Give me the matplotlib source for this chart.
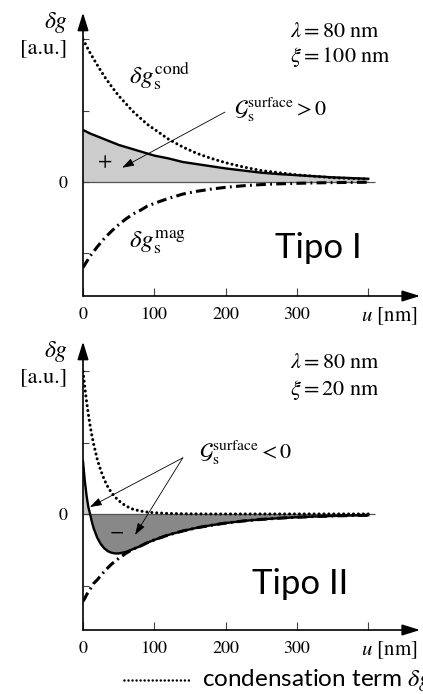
import matplotlib
matplotlib.use("Agg")
import matplotlib.pyplot as plt
from matplotlib.lines import Line2D

plt.rcParams['mathtext.fontset'] = 'stix'
plt.rcParams['font.family'] = 'STIXGeneral'

# ---- data (u in nm, dg in arbitrary units) ----
u_top = [0, 10, 20, 30, 40, 50, 60, 70, 80, 90, 100, 120, 140, 160, 180, 200,
         225, 250, 275, 300, 325, 350, 375, 400]
cond_top = [2.00, 1.81, 1.64, 1.48, 1.34, 1.21, 1.10, 0.99, 0.90, 0.81, 0.74,
            0.60, 0.49, 0.40, 0.33, 0.27, 0.21, 0.16, 0.13, 0.10, 0.08, 0.06,
            0.05, 0.04]
mag_top = [-1.20, -1.04, -0.91, -0.79, -0.69, -0.60, -0.52, -0.45, -0.40,
           -0.34, -0.30, -0.23, -0.17, -0.13, -0.10, -0.075, -0.053, -0.037,
           -0.026, -0.019, -0.013, -0.009, -0.006, -0.004]
total_top = [0.73, 0.68, 0.64, 0.60, 0.56, 0.52, 0.49, 0.46, 0.43, 0.40, 0.37,
             0.33, 0.28, 0.25, 0.22, 0.19, 0.16, 0.13, 0.11, 0.095, 0.08,
             0.065, 0.055, 0.045]

u_bot = [0, 2.5, 5, 7.5, 10, 12.5, 15, 20, 25, 30, 35, 40, 45, 50, 60, 70, 80,
         90, 100, 120, 140, 160, 180, 200, 225, 250, 275, 300, 325, 350, 375,
         400]
cond_bot = [2.00, 1.78, 1.58, 1.40, 1.24, 1.10, 0.98, 0.77, 0.61, 0.48, 0.38,
            0.30, 0.24, 0.19, 0.115, 0.07, 0.045, 0.03, 0.02, 0.01, 0.006,
            0.004, 0.003, 0.003, 0.003, 0.003, 0.003, 0.003, 0.003, 0.003,
            0.003, 0.003]
mag_bot = [-1.22, -1.18, -1.13, -1.09, -1.05, -1.01, -0.97, -0.92, -0.86,
           -0.80, -0.75, -0.70, -0.66, -0.62, -0.55, -0.49, -0.45, -0.40,
           -0.36, -0.29, -0.235, -0.19, -0.155, -0.125, -0.095, -0.073,
           -0.056, -0.043, -0.033, -0.025, -0.019, -0.015]
total_bot = [0.74, 0.47, 0.26, 0.10, 0.00, -0.11, -0.20, -0.33, -0.42, -0.48,
             -0.52, -0.54, -0.55, -0.55, -0.53, -0.49, -0.45, -0.40, -0.36,
             -0.29, -0.235, -0.19, -0.155, -0.125, -0.095, -0.073, -0.056,
             -0.043, -0.033, -0.025, -0.019, -0.015]

xticks = [0, 100, 200, 300, 400]
xticklabels = ['0', '100', '200', '300', '']
yticks = [-1, 0, 1, 2]
yticklabels = ['', '0', '', '']

W, H = 423, 694
fig = plt.figure(figsize=(W / 100, H / 100), dpi=100)


def px_axes(left, top, right, bottom):
    return fig.add_axes([left / W, 1 - bottom / H, (right - left) / W, (bottom - top) / H])


def setup(ax, ylim):
    ax.set_xlim(0, 472.6)
    ax.set_ylim(*ylim)
    for s in ax.spines.values():
        s.set_visible(False)
    ax.set_xticks(xticks)
    ax.set_xticklabels(xticklabels)
    ax.set_yticks(yticks)
    ax.set_yticklabels(yticklabels)
    ax.tick_params(axis='x', direction='in', length=6, width=0.8, pad=8,
                   labelsize=13, color='#444444')
    ax.tick_params(axis='y', direction='in', length=4, width=0.8, pad=11,
                   labelsize=13, color='#444444')
    arr = dict(arrowstyle='-|>,head_length=0.9,head_width=0.28', color='black',
               lw=1.2, shrinkA=0, shrinkB=0, mutation_scale=12)
    ax.annotate('', xy=(1, 0), xytext=(0, 0), xycoords='axes fraction', arrowprops=arr)
    ax.annotate('', xy=(0, 1), xytext=(0, 0), xycoords='axes fraction', arrowprops=arr)
    ax.hlines(0, 0, 410, color='#555555', lw=0.9, zorder=1)
    ax.annotate(r'$u$ [nm]', xy=(429, 0), xycoords=('data', 'axes fraction'),
                xytext=(0, -20), textcoords='offset pixels', ha='center',
                va='center', fontsize=15, annotation_clip=False)
    ax.text(-21, ylim[1] - 0.14, r'$\delta g$', ha='right', va='center',
            fontsize=17, clip_on=False)
    ax.text(-22, ylim[1] - 0.50, '[a.u.]', ha='right', va='center',
            fontsize=16, clip_on=False)


dots = (0, (0.01, 1.6))
dashdot = (0, (3.2, 1.4, 0.6, 1.4))

# ---------------- top panel: type I ----------------
ax1 = px_axes(83, 12.7, 420, 296)
setup(ax1, (-1.60, 2.375))
ax1.fill_between(u_top, total_top, 0, color='#cccccc', lw=0, zorder=0)
ax1.plot(u_top, cond_top, color='black', lw=2.2, ls=dots, dash_capstyle='round')
ax1.plot(u_top, mag_top, color='black', lw=2.2, ls=dashdot)
ax1.plot(u_top, total_top, color='black', lw=1.7)

ax1.text(290, 2.10, r'$\lambda = 80\ \mathrm{nm}$', fontsize=16, va='center')
ax1.text(290, 1.75, r'$\xi = 100\ \mathrm{nm}$', fontsize=16, va='center')
ax1.text(107, 1.49, r'$\delta g_{\mathrm{s}}^{\mathrm{cond}}$', fontsize=18,
         ha='center', va='center')
ax1.text(105, -0.84, r'$\delta g_{\mathrm{s}}^{\mathrm{mag}}$', fontsize=18,
         ha='center', va='center')
ax1.text(212, 1.01, r'$\mathcal{G}_{\mathrm{s}}^{\mathrm{surface}} > 0$',
         fontsize=16, va='center')
ax1.annotate('', xy=(55, 0.20), xytext=(199, 0.98),
             arrowprops=dict(arrowstyle='-|>,head_length=0.6,head_width=0.2',
                             color='black', lw=0.6, shrinkA=0, shrinkB=0,
                             mutation_scale=12))
ax1.text(31, 0.27, '+', fontsize=15, ha='center', va='center')
ax1.text(330, -0.93, 'Tipo I', family='Lato', fontsize=25, ha='center', va='center')

# ---------------- bottom panel: type II ----------------
ax2 = px_axes(83, 341.7, 420, 630)
setup(ax2, (-1.623, 2.417))
ax2.fill_between(u_bot, total_bot, 0, where=[v >= 0 for v in total_bot],
                 interpolate=True, color='#c8c8c8', lw=0, zorder=0)
ax2.fill_between(u_bot, total_bot, 0, where=[v <= 0 for v in total_bot],
                 interpolate=True, color='#888888', lw=0, zorder=0)
ax2.plot(u_bot, cond_bot, color='black', lw=2.2, ls=dots, dash_capstyle='round')
ax2.plot(u_bot, mag_bot, color='black', lw=2.2, ls=dashdot)
ax2.plot(u_bot, total_bot, color='black', lw=1.7)

ax2.text(290, 2.11, r'$\lambda = 80\ \mathrm{nm}$', fontsize=16, va='center')
ax2.text(290, 1.74, r'$\xi = 20\ \mathrm{nm}$', fontsize=16, va='center')
ax2.text(162, 0.86, r'$\mathcal{G}_{\mathrm{s}}^{\mathrm{surface}} < 0$',
         fontsize=16, va='center')
thin = dict(arrowstyle='-|>,head_length=0.6,head_width=0.2', color='black',
            lw=0.6, shrinkA=0, shrinkB=0, mutation_scale=12)
ax2.annotate('', xy=(9.8, 0.10), xytext=(140, 0.79), arrowprops=thin)
ax2.annotate('', xy=(73, -0.29), xytext=(140, 0.79), arrowprops=thin)
ax2.text(48, -0.26, '\u2212', fontsize=15, ha='center', va='center')
ax2.text(305, -0.98, 'Tipo II', family='Lato', fontsize=25, ha='center', va='center')

# legend fragment at the bottom edge, cut by the right border as in the source
fig.add_artist(Line2D([124 / W, 190 / W], [1 - 680 / H] * 2, color='black',
                      lw=1.8, ls=dots, dash_capstyle='round'))
fig.text(202 / W, 1 - 680 / H, r'condensation term $\delta g_{\mathrm{s}}^{\mathrm{cond}}$',
         family=['Lato', 'DejaVu Sans'], fontsize=17.5, va='center')

fig.savefig('out.png', dpi=100)
